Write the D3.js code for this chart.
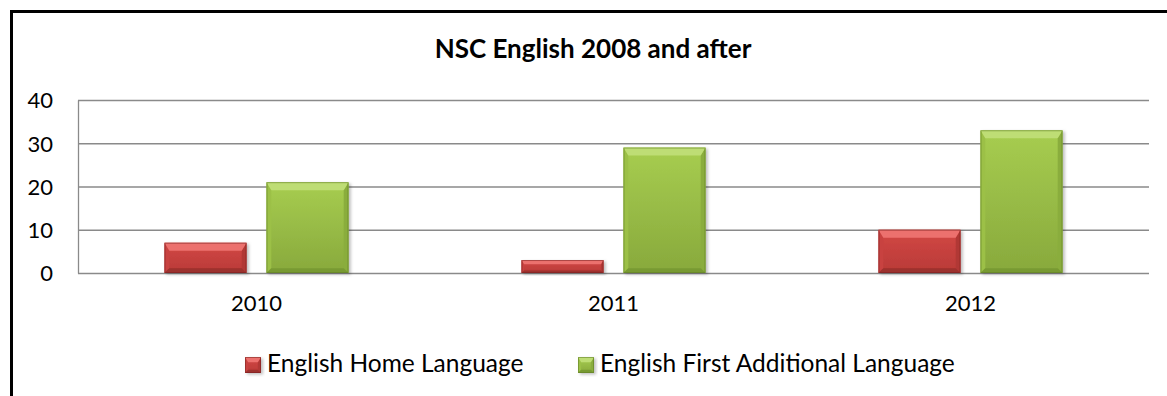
<!DOCTYPE html>
<html>
<head>
<meta charset="utf-8">
<script src="https://cdn.jsdelivr.net/npm/d3@7"></script>
<style>
  html, body { margin: 0; padding: 0; background: #fff; }
  svg { display: block; font-family: Lato, "Open Sans", sans-serif; }
</style>
</head>
<body>
<svg id="chart" width="1167" height="396"></svg>
<script>
// Chart data
const years = ["2010", "2011", "2012"];
const seriesNames = ["English Home Language", "English First Additional Language"];
const homeLanguage = [7, 3, 10];
const firstAdditional = [21, 29, 33];
const yTicks = [0, 10, 20, 30, 40];
const titleText = "NSC English 2008 and after";

// Bevel palettes per series: face top/bottom, top bevel, bottom bevel, sides
const palettes = [
  { faceTop: "#d24845", faceBottom: "#b93a37", top: "#ec716e", bottom: "#9c302d", left: "#c84340", right: "#b13835", edge: "#7a2220" },
  { faceTop: "#a7cd50", faceBottom: "#88a93c", top: "#bedd74", bottom: "#789a32", left: "#9cc046", right: "#8aad3c", edge: "#5f7c25" }
];

const svg = d3.select("#chart");
const W = 1167, H = 396;
const plot = { left: 78, right: 1149, top: 100, bottom: 273 };

const defs = svg.append("defs");
palettes.forEach((p, i) => {
  const g = defs.append("linearGradient").attr("id", "face" + i)
    .attr("x1", 0).attr("y1", 0).attr("x2", 0).attr("y2", 1);
  g.append("stop").attr("offset", "0%").attr("stop-color", p.faceTop);
  g.append("stop").attr("offset", "100%").attr("stop-color", p.faceBottom);
});
const shadow = defs.append("filter").attr("id", "shadow")
  .attr("x", "-10%").attr("y", "-10%").attr("width", "130%").attr("height", "130%");
shadow.append("feDropShadow").attr("dx", 2).attr("dy", 1.5).attr("stdDeviation", 1.5)
  .attr("flood-color", "#000").attr("flood-opacity", 0.25);

// Outer chart frame (continues past the right and bottom edges)
svg.append("path")
  .attr("d", `M11.5,${H + 5} V11.5 H${W + 5}`)
  .attr("fill", "none").attr("stroke", "#000").attr("stroke-width", 3);

// Title
svg.append("text")
  .attr("x", 593).attr("y", 58)
  .attr("text-anchor", "middle")
  .attr("font-weight", "bold").attr("font-size", 26).attr("fill", "#000")
  .text(titleText);

// Scales
const x = d3.scaleBand().domain(years).range([plot.left, plot.right]).paddingInner(0).paddingOuter(0);
const inset = x.bandwidth() * 0.2423;
const xs = d3.scaleBand().domain(seriesNames)
  .range([inset, x.bandwidth() - inset]).paddingInner(0.196).paddingOuter(0);
const y = d3.scaleLinear().domain([0, 40]).range([plot.bottom, plot.top]);

// Y axis with gridlines
const yAxis = svg.append("g")
  .attr("transform", `translate(${plot.left},0)`)
  .call(d3.axisLeft(y).tickValues(yTicks).tickSize(-(plot.right - plot.left)).tickSizeOuter(0).tickPadding(25));
yAxis.select(".domain").attr("stroke", "#8a8a8a").attr("stroke-width", 1.3);
yAxis.selectAll(".tick line").attr("stroke", "#8a8a8a").attr("stroke-width", 1.3);
yAxis.selectAll(".tick text")
  .attr("font-size", 22).attr("font-family", "Lato, sans-serif").attr("fill", "#000")
  .attr("dy", "0.36em");

// X axis labels
const xAxis = svg.append("g")
  .attr("transform", `translate(0,${plot.bottom})`)
  .call(d3.axisBottom(x).tickSize(0));
xAxis.select(".domain").remove();
xAxis.selectAll(".tick text")
  .attr("font-size", 22).attr("font-family", "Lato, sans-serif").attr("fill", "#000")
  .attr("y", 38).attr("dy", null);

// Draws a bevelled block: gradient face, soft side/bottom bevels, bright top bevel
function bevelBlock(g, bx, by, bw, bh, p, idx, maxBevel) {
  const b = Math.max(1, Math.min(maxBevel, bh * 0.33, bw * 0.33));
  const sb = b * 0.6;
  const grp = g.append("g").attr("filter", "url(#shadow)");
  grp.append("rect").attr("x", bx).attr("y", by).attr("width", bw).attr("height", bh)
    .attr("fill", `url(#face${idx})`);
  const poly = (pts, fill) => grp.append("polygon")
    .attr("points", pts.map(q => q.join(",")).join(" ")).attr("fill", fill);
  const x0 = bx, x1 = bx + bw, y0 = by, y1 = by + bh;
  poly([[x0, y0], [x0 + sb, y0 + b], [x0 + sb, y1 - sb], [x0, y1]], p.left);
  poly([[x1, y0], [x1 - sb, y0 + b], [x1 - sb, y1 - sb], [x1, y1]], p.right);
  poly([[x0, y1], [x1, y1], [x1 - sb, y1 - sb], [x0 + sb, y1 - sb]], p.bottom);
  poly([[x0, y0], [x1, y0], [x1 - sb, y0 + b], [x0 + sb, y0 + b]], p.top);
  grp.append("rect").attr("x", bx + 0.5).attr("y", by + 0.5).attr("width", bw - 1).attr("height", bh - 1)
    .attr("fill", "none").attr("stroke", p.edge).attr("stroke-width", 1).attr("stroke-opacity", 0.55);
}

// Bars
const seriesValues = [homeLanguage, firstAdditional];
const barsLayer = svg.append("g");
years.forEach((yr, i) => {
  seriesNames.forEach((name, s) => {
    const v = seriesValues[s][i];
    const bx = x(yr) + xs(name);
    const by = y(v);
    bevelBlock(barsLayer, bx, by, xs.bandwidth(), y(0) - by, palettes[s], s, 8);
  });
});

// Legend
const legendX = [245, 578];
const legend = svg.append("g");
seriesNames.forEach((name, s) => {
  bevelBlock(legend, legendX[s], 357, 16, 16, palettes[s], s, 6);
  legend.append("text")
    .attr("x", legendX[s] + 22).attr("y", 372)
    .attr("font-size", 24.5).attr("fill", "#000")
    .text(name);
});
</script>
</body>
</html>
